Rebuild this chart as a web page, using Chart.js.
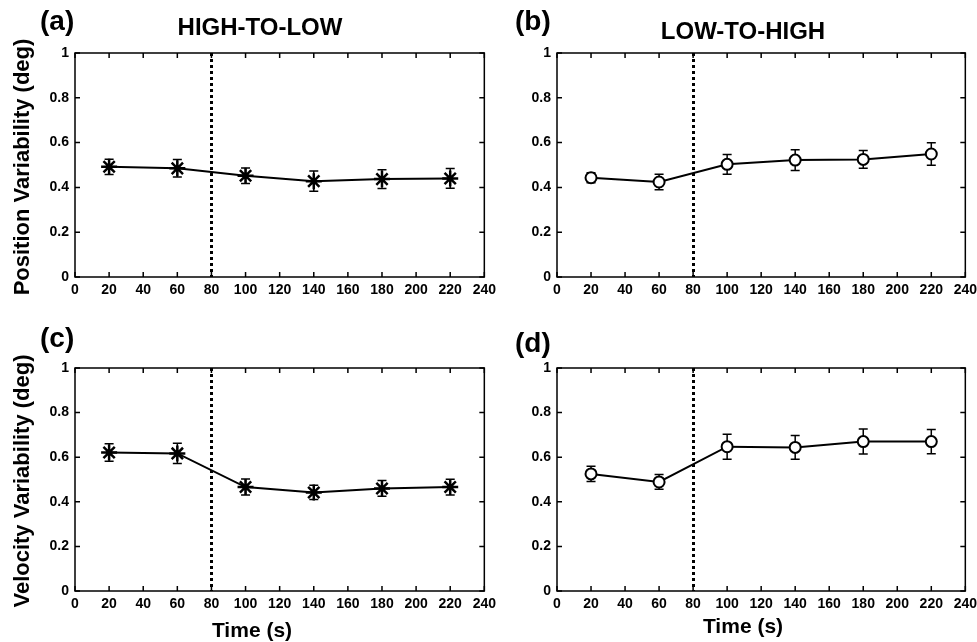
<!DOCTYPE html>
<html>
<head>
<meta charset="utf-8">
<script src="https://cdn.jsdelivr.net/npm/chart.js@4.4.1/dist/chart.umd.min.js"></script>
<style>
  html, body { margin: 0; padding: 0; background: #fff; }
  #wrap { position: relative; width: 977px; height: 642px; overflow: hidden; background: #fff;
          font-family: "Liberation Sans", Arial, sans-serif; font-weight: bold; color: #000; }
  canvas { position: absolute; }
  .lbl { position: absolute; line-height: 1; white-space: nowrap; }
  .panel { font-size: 28px; }
  .title { font-size: 24px; width: 240px; text-align: center; }
  .ytitle { font-size: 22px; transform: translate(-50%, -50%) rotate(-90deg); }
  .xtitle { font-size: 21px; width: 160px; text-align: center; }
</style>
</head>
<body>
<div id="wrap">
  <canvas id="chart-a" width="501" height="300" style="left:0;top:0"></canvas>
  <canvas id="chart-b" width="492" height="300" style="left:490px;top:0"></canvas>
  <canvas id="chart-c" width="501" height="342" style="left:0;top:300px"></canvas>
  <canvas id="chart-d" width="492" height="342" style="left:490px;top:300px"></canvas>

  <div class="lbl panel" style="left:40px;top:7px">(a)</div>
  <div class="lbl panel" style="left:515px;top:7px">(b)</div>
  <div class="lbl panel" style="left:40px;top:324px">(c)</div>
  <div class="lbl panel" style="left:515px;top:329px">(d)</div>

  <div class="lbl title" style="left:140px;top:15px">HIGH-TO-LOW</div>
  <div class="lbl title" style="left:623px;top:19px">LOW-TO-HIGH</div>

  <div class="lbl ytitle" style="left:22px;top:167px">Position Variability (deg)</div>
  <div class="lbl ytitle" style="left:22px;top:481px">Velocity Variability (deg)</div>

  <div class="lbl xtitle" style="left:172px;top:619px">Time (s)</div>
  <div class="lbl xtitle" style="left:663px;top:615px">Time (s)</div>
</div>

<script>
// time of each block (s)
const times = [20, 60, 100, 140, 180, 220];
const switchTime = 80; // dotted line

// position variability (deg)
const posHighLow    = [0.492, 0.485, 0.452, 0.428, 0.437, 0.440];
const posHighLowErr = [0.034, 0.039, 0.035, 0.045, 0.042, 0.044];
const posLowHigh    = [0.443, 0.424, 0.503, 0.522, 0.525, 0.549];
const posLowHighErr = [0.022, 0.035, 0.044, 0.046, 0.040, 0.050];

// velocity variability (deg)
const velHighLow    = [0.621, 0.617, 0.466, 0.442, 0.460, 0.466];
const velHighLowErr = [0.039, 0.045, 0.036, 0.032, 0.035, 0.035];
const velLowHigh    = [0.525, 0.489, 0.647, 0.644, 0.670, 0.670];
const velLowHighErr = [0.034, 0.033, 0.056, 0.053, 0.056, 0.054];

const xTicks = [0, 20, 40, 60, 80, 100, 120, 140, 160, 180, 200, 220, 240];
const yTicks = [0, 0.2, 0.4, 0.6, 0.8, 1];

const tickFont = { family: '"Liberation Sans", Arial, sans-serif', size: 14, weight: 'bold' };

// box, inward ticks, dotted switch line and error bars
const framePlugin = {
  id: 'frame',
  beforeDatasetsDraw(chart, args, opts) {
    const { ctx, chartArea: a, scales: { x, y } } = chart;
    ctx.save();
    // dotted line at the switch
    const sx = Math.round(x.getPixelForValue(switchTime)) + 0.5;
    ctx.strokeStyle = '#000';
    ctx.lineWidth = 3;
    ctx.setLineDash([3, 3]);
    ctx.beginPath();
    ctx.moveTo(sx, a.top);
    ctx.lineTo(sx, a.bottom);
    ctx.stroke();
    ctx.setLineDash([]);

    // error bars
    const errs = opts.errors || [];
    const ds = chart.data.datasets[0].data;
    ctx.lineWidth = 1.5;
    ds.forEach((p, i) => {
      const px = x.getPixelForValue(p.x);
      const top = y.getPixelForValue(p.y + errs[i]);
      const bot = y.getPixelForValue(p.y - errs[i]);
      ctx.beginPath();
      ctx.moveTo(px, top); ctx.lineTo(px, bot);
      ctx.moveTo(px - 4.5, top); ctx.lineTo(px + 4.5, top);
      ctx.moveTo(px - 4.5, bot); ctx.lineTo(px + 4.5, bot);
      ctx.stroke();
    });
    ctx.restore();
  },
  afterDraw(chart) {
    const { ctx, chartArea: a, scales: { x, y } } = chart;
    ctx.save();
    ctx.strokeStyle = '#000';
    ctx.lineWidth = 1.5;
    ctx.strokeRect(a.left, a.top, a.right - a.left, a.bottom - a.top);
    ctx.beginPath();
    x.ticks.forEach(t => {
      const px = x.getPixelForValue(t.value);
      ctx.moveTo(px, a.bottom); ctx.lineTo(px, a.bottom - 5);
      ctx.moveTo(px, a.top); ctx.lineTo(px, a.top + 5);
    });
    y.ticks.forEach(t => {
      const py = y.getPixelForValue(t.value);
      ctx.moveTo(a.left, py); ctx.lineTo(a.left + 5, py);
      ctx.moveTo(a.right, py); ctx.lineTo(a.right - 5, py);
    });
    ctx.stroke();
    ctx.restore();
  }
};

function makePanel(canvasId, values, errs, marker, pad, yWidth, xHeight) {
  const ctx = document.getElementById(canvasId).getContext('2d');
  const points = times.map((t, i) => ({ x: t, y: values[i] }));
  const isStar = marker === 'star';
  return new Chart(ctx, {
    type: 'line',
    data: {
      datasets: [{
        data: points,
        borderColor: '#000',
        borderWidth: 2,
        tension: 0,
        pointStyle: marker,
        pointRadius: isStar ? 8 : 5.5,
        pointBorderWidth: isStar ? 2.5 : 2,
        pointBorderColor: '#000',
        pointBackgroundColor: isStar ? '#000' : '#fff',
        clip: false
      }]
    },
    options: {
      responsive: false,
      maintainAspectRatio: false,
      devicePixelRatio: 1,
      animation: false,
      layout: { padding: pad },
      plugins: {
        legend: { display: false },
        tooltip: { enabled: false },
        frame: { errors: errs }
      },
      scales: {
        x: {
          type: 'linear',
          min: 0, max: 240,
          afterBuildTicks: s => { s.ticks = xTicks.map(v => ({ value: v })); },
          afterFit: s => { s.height = xHeight; },
          grid: { display: false, drawTicks: false },
          border: { display: false },
          ticks: { color: '#000', font: tickFont, padding: 5, maxRotation: 0, autoSkip: false }
        },
        y: {
          min: 0, max: 1,
          afterBuildTicks: s => { s.ticks = yTicks.map(v => ({ value: v })); },
          afterFit: s => { s.width = yWidth; },
          grid: { display: false, drawTicks: false },
          border: { display: false },
          ticks: { color: '#000', font: tickFont, padding: 6, callback: v => String(v) }
        }
      }
    },
    plugins: [framePlugin]
  });
}

makePanel('chart-a', posHighLow, posHighLowErr, 'star',   { top: 53, right: 5, left: 0, bottom: 0 }, 75, 23);
makePanel('chart-b', posLowHigh, posLowHighErr, 'circle', { top: 53, right: 5, left: 0, bottom: 0 }, 67, 23);
makePanel('chart-c', velHighLow, velHighLowErr, 'star',   { top: 68, right: 5, left: 0, bottom: 0 }, 75, 51);
makePanel('chart-d', velLowHigh, velLowHighErr, 'circle', { top: 68, right: 5, left: 0, bottom: 0 }, 67, 51);
</script>
</body>
</html>
